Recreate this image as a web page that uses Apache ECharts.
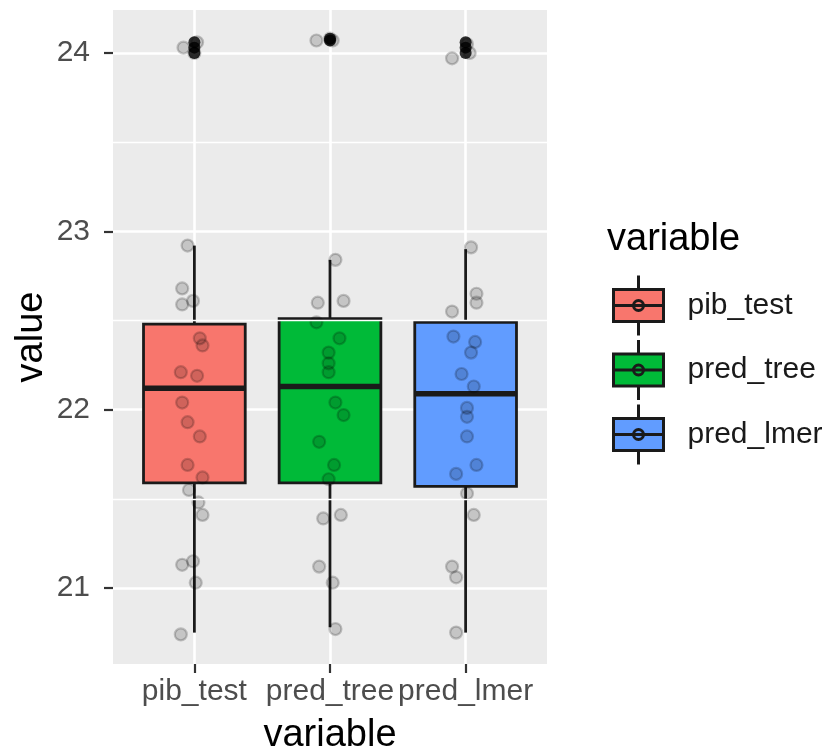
<!DOCTYPE html>
<html><head><meta charset="utf-8">
<script src="https://cdn.jsdelivr.net/npm/echarts@6/dist/echarts.min.js"></script>
<style>html,body{margin:0;padding:0;background:#fff}#chart{width:831px;height:753px}</style>
</head><body><div id="chart"></div>
<script>
const categories = ['pib_test', 'pred_tree', 'pred_lmer'];
const boxColors = ['#F8766D', '#00BA38', '#619CFF'];
const yTicks = [21, 22, 23, 24];
const yMinorLines = [21.5, 22.5, 23.5];
// [lower whisker, Q1, median, Q3, upper whisker]
const pibTestBox = [20.75, 21.59, 22.12, 22.48, 22.92];
const predTreeBox = [20.78, 21.59, 22.13, 22.51, 22.84];
const predLmerBox = [20.75, 21.57, 22.09, 22.49, 22.90];
const pibTestOutliers = [24.06, 24.03, 24.00];
const predTreeOutliers = [24.08, 24.07];
const predLmerOutliers = [24.06, 24.03, 24.00];
// jittered observations: [horizontal jitter in category units, value]
const pibTestPoints = [[-0.05, 22.92], [-0.09, 22.68], [-0.09, 22.59], [-0.01, 22.61], [0.04, 22.40], [0.06, 22.36],
  [-0.10, 22.21], [0.02, 22.19], [-0.09, 22.04], [-0.05, 21.93], [0.04, 21.85], [-0.05, 21.69], [0.06, 21.62],
  [-0.04, 21.55], [0.03, 21.48], [0.06, 21.41], [-0.09, 21.13], [-0.01, 21.15], [0.01, 21.03], [-0.10, 20.74],
  [-0.08, 24.03], [0.02, 24.06], [0.00, 24.00]];
const predTreePoints = [[0.04, 22.84], [-0.09, 22.60], [0.10, 22.61], [-0.10, 22.49], [0.07, 22.40], [-0.01, 22.32],
  [-0.01, 22.26], [-0.01, 22.21], [0.04, 22.04], [0.10, 21.97], [-0.08, 21.82], [0.03, 21.69], [-0.01, 21.61],
  [-0.05, 21.39], [0.08, 21.41], [-0.08, 21.12], [0.02, 21.03], [0.04, 20.77],
  [-0.10, 24.07], [0.02, 24.07], [0.00, 24.08]];
const predLmerPoints = [[0.04, 22.91], [0.08, 22.65], [0.08, 22.60], [-0.10, 22.55], [-0.09, 22.41], [0.07, 22.38],
  [0.04, 22.32], [-0.03, 22.20], [0.06, 22.13], [0.01, 22.01], [0.01, 21.96], [0.01, 21.85], [0.08, 21.69],
  [-0.07, 21.64], [0.01, 21.53], [0.06, 21.41], [-0.10, 21.12], [-0.07, 21.06], [-0.07, 20.75],
  [-0.10, 23.97], [0.01, 24.05], [0.03, 24.00]];

const FONT = '"Liberation Sans", Arial, sans-serif';
const boxes = [pibTestBox, predTreeBox, predLmerBox];
const outliers = [pibTestOutliers, predTreeOutliers, predLmerOutliers];
const points = [pibTestPoints, predTreePoints, predLmerPoints];

function renderBox(params, api) {
  const x = api.value(0);
  const lo = api.coord([x, api.value(1)]);
  const q1 = api.coord([x, api.value(2)]);
  const med = api.coord([x, api.value(3)]);
  const q3 = api.coord([x, api.value(4)]);
  const hi = api.coord([x, api.value(5)]);
  const w = api.size([0.75, 0])[0];
  const stroke = '#1a1a1a';
  return {
    type: 'group',
    children: [
      { type: 'line', shape: { x1: hi[0], y1: hi[1], x2: q3[0], y2: q3[1] }, style: { stroke, lineWidth: 2.8 } },
      { type: 'line', shape: { x1: q1[0], y1: q1[1], x2: lo[0], y2: lo[1] }, style: { stroke, lineWidth: 2.8 } },
      { type: 'rect', shape: { x: q3[0] - w / 2, y: q3[1], width: w, height: q1[1] - q3[1] },
        style: { fill: api.visual('color'), stroke, lineWidth: 2.8 } },
      { type: 'line', shape: { x1: med[0] - w / 2, y1: med[1], x2: med[0] + w / 2, y2: med[1] },
        style: { stroke, lineWidth: 5.5 } }
    ]
  };
}

const series = [];
series.push({
  type: 'line', data: [], silent: true, z: 1,
  markLine: {
    silent: true, symbol: 'none', label: { show: false },
    lineStyle: { color: '#ffffff', width: 1.3, type: 'solid' },
    data: yMinorLines.map(v => ({ yAxis: v }))
  }
});
categories.forEach((name, i) => {
  series.push({
    type: 'custom', name, z: 2,
    itemStyle: { color: boxColors[i] },
    renderItem: renderBox,
    encode: { x: 0, y: [1, 2, 3, 4, 5] },
    data: [[i + 1].concat(boxes[i])]
  });
});
categories.forEach((name, i) => {
  series.push({
    type: 'scatter', name: name + '_outliers', z: 3, symbolSize: 12,
    itemStyle: { color: '#000000' },
    data: outliers[i].map(v => [i + 1, v])
  });
});
categories.forEach((name, i) => {
  series.push({
    type: 'scatter', name: name + '_points', z: 4, symbolSize: 12,
    itemStyle: { color: 'rgba(0,0,0,0.2)', borderColor: 'rgba(0,0,0,0.25)', borderWidth: 2.2 },
    data: points[i].map(p => [i + 1 + p[0], p[1]])
  });
});

const chart = echarts.init(document.getElementById('chart'), null, { renderer: 'canvas' });
chart.setOption({
  animation: false,
  backgroundColor: '#ffffff',
  textStyle: { fontFamily: FONT },
  title: {
    text: 'variable', left: 607, top: 221, padding: 0,
    textStyle: { fontSize: 38, fontWeight: 'normal', color: '#000000', fontFamily: FONT }
  },
  legend: {
    data: categories, orient: 'vertical', left: 612, top: 274, padding: 0,
    itemWidth: 50, itemHeight: 60, itemGap: 1.5,
    icon: 'path://M25,0L25,14M0,14L50,14L50,46L0,46ZM0,30L50,30M25,46L25,60M30,30A5,5 0 1,1 20,30A5,5 0 1,1 30,30Z',
    itemStyle: { borderColor: '#1a1a1a', borderWidth: 3 },
    textStyle: { fontSize: 30, color: '#1a1a1a', fontFamily: FONT, padding: [0, 0, 0, 19] },
    selectedMode: false
  },
  grid: {
    left: 113, top: 10, width: 434, height: 654,
    show: true, backgroundColor: '#EBEBEB', borderWidth: 0,
    containLabel: false, outerBoundsMode: 'none'
  },
  xAxis: {
    type: 'value', min: 0.4, max: 3.6,
    name: 'variable', nameLocation: 'middle', nameGap: 53, nameMoveOverlap: false,
    nameTextStyle: { fontSize: 38, color: '#000000', fontFamily: FONT },
    axisLine: { show: false },
    axisTick: { show: true, customValues: [1, 2, 3], length: 9, lineStyle: { color: '#333333', width: 2.2 } },
    axisLabel: {
      customValues: [1, 2, 3], margin: 13, fontSize: 30, color: '#4D4D4D', fontFamily: FONT,
      hideOverlap: false,
      formatter: v => categories[Math.round(v) - 1] || ''
    },
    splitLine: { show: true, lineStyle: { color: '#ffffff', width: 2.6 } }
  },
  yAxis: {
    type: 'value', min: 20.574, max: 24.241,
    name: 'value', nameLocation: 'middle', nameGap: 62, nameRotate: 90, nameMoveOverlap: false,
    nameTextStyle: { fontSize: 38, color: '#000000', fontFamily: FONT },
    axisLine: { show: false },
    axisTick: { show: true, customValues: yTicks, length: 9, lineStyle: { color: '#333333', width: 2.2 } },
    axisLabel: { customValues: yTicks, margin: 23, fontSize: 30, color: '#4D4D4D', fontFamily: FONT },
    splitLine: { show: true, lineStyle: { color: '#ffffff', width: 2.6 } }
  },
  series
});
</script></body></html>
